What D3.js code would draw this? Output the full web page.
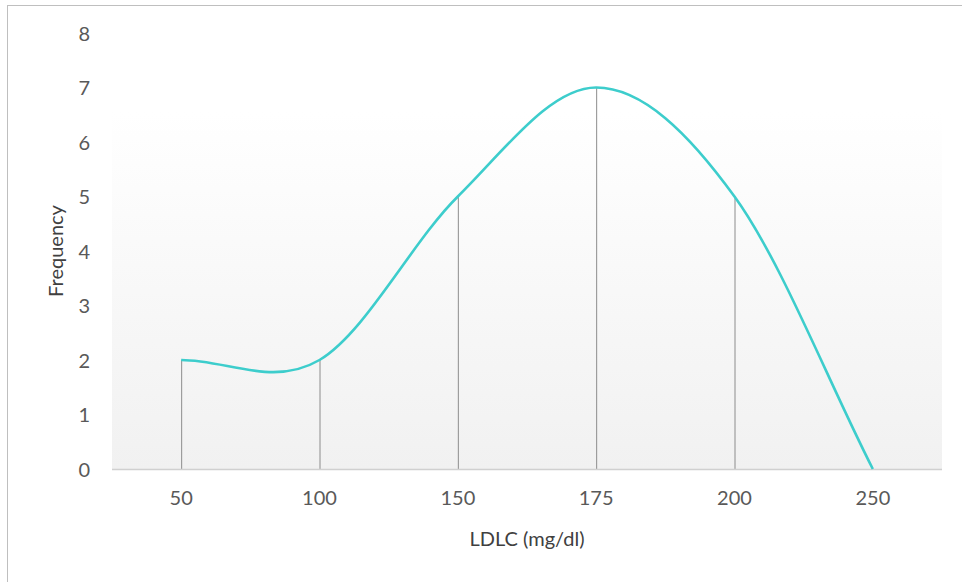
<!DOCTYPE html>
<html><head><meta charset="utf-8">
<script src="https://cdn.jsdelivr.net/npm/d3@7"></script>
<style>body{margin:0;background:#fff;}svg{display:block;}</style>
</head><body>
<svg id="c" width="962" height="582"></svg>
<script>
const categories = ["50","100","150","175","200","250"];
const frequency = [2,2,5,7,5,0];
const yTicks = [0,1,2,3,4,5,6,7,8];

const svg = d3.select("#c");
const W = 962, H = 582;
const m = {left:112, right:20, top:33, bottom:113};
const x = d3.scaleBand().domain(categories).range([m.left, W - m.right]);
const y = d3.scaleLinear().domain([0,8]).range([H - m.bottom, m.top]);

// outer border
svg.append("rect").attr("x",7.5).attr("y",5.5).attr("width",W+10).attr("height",H+10)
  .attr("fill","#fff").attr("stroke","#bfbfbf").attr("stroke-width",1);

const defs = svg.append("defs");
const g = defs.append("linearGradient").attr("id","bg").attr("x1",0).attr("y1",0).attr("x2",0).attr("y2",1);
g.append("stop").attr("offset","0%").attr("stop-color","#ffffff");
g.append("stop").attr("offset","20%").attr("stop-color","#ffffff");
g.append("stop").attr("offset","100%").attr("stop-color","#f1f1f1");

svg.append("rect").attr("x",m.left).attr("y",m.top-10)
  .attr("width",W-m.right-m.left).attr("height",y(0)-m.top+10).attr("fill","url(#bg)");

const cx = d => x(d) + x.bandwidth()/2;

// drop lines
svg.append("g").selectAll("line").data(categories.map((c,i)=>({c,v:frequency[i]})).filter(d=>d.v>0))
  .join("line")
  .attr("x1",d=>cx(d.c)+0.5).attr("x2",d=>cx(d.c)+0.5)
  .attr("y1",d=>y(d.v)).attr("y2",y(0))
  .attr("stroke","#8c8c8c").attr("stroke-width",1);

// x axis line
svg.append("line").attr("x1",m.left).attr("x2",W-m.right).attr("y1",y(0)+0.5).attr("y2",y(0)+0.5)
  .attr("stroke","#d0d0d0").attr("stroke-width",1.5);

// smoothed curve (spreadsheet-style Bezier smoothing)
const pts = frequency.map((v,i)=>[cx(categories[i]), y(v)]);
function smoothPath(p){
  const path = d3.path();
  path.moveTo(p[0][0], p[0][1]);
  const n = p.length;
  for(let i=0;i<n-1;i++){
    const p0 = p[i], p1 = p[i+1];
    let c1, c2;
    if(i===0) c1 = [p0[0]+(p1[0]-p0[0])/3, p0[1]+(p1[1]-p0[1])/3];
    else c1 = [p0[0]+(p1[0]-p[i-1][0])/6, p0[1]+(p1[1]-p[i-1][1])/6];
    if(i===n-2) c2 = [p1[0]-(p1[0]-p0[0])/3, p1[1]-(p1[1]-p0[1])/3];
    else c2 = [p1[0]-(p[i+2][0]-p0[0])/6, p1[1]-(p[i+2][1]-p0[1])/6];
    path.bezierCurveTo(c1[0],c1[1],c2[0],c2[1],p1[0],p1[1]);
  }
  return path.toString();
}
svg.append("path").attr("d",smoothPath(pts)).attr("fill","none")
  .attr("stroke","#3dcdcc").attr("stroke-width",2.6);

const font = "Lato, 'Open Sans', sans-serif";
// y ticks
const yAxis = d3.axisLeft(y).tickValues(yTicks).tickSize(0).tickPadding(0);
const ya = svg.append("g").attr("transform",`translate(${m.left-22},0)`).call(yAxis);
ya.select(".domain").remove();
ya.selectAll("text").attr("font-family",font).attr("font-size",20).attr("fill","#595959").attr("dy","0.36em");

// x ticks
const xAxis = d3.axisBottom(x).tickSize(0).tickPadding(0);
const xa = svg.append("g").attr("transform",`translate(0,${y(0)+29})`).call(xAxis);
xa.select(".domain").remove();
xa.selectAll("text").attr("font-family",font).attr("font-size",20).attr("fill","#595959").attr("dy","0.36em");

// axis titles
svg.append("text").attr("x",527).attr("y",546).attr("text-anchor","middle")
  .attr("font-family",font).attr("font-size",20).attr("fill","#404040").text("LDLC (mg/dl)");
svg.append("text").attr("transform","translate(63,251) rotate(-90)").attr("text-anchor","middle")
  .attr("font-family",font).attr("font-size",20).attr("fill","#404040").text("Frequency");
</script>
</body></html>
